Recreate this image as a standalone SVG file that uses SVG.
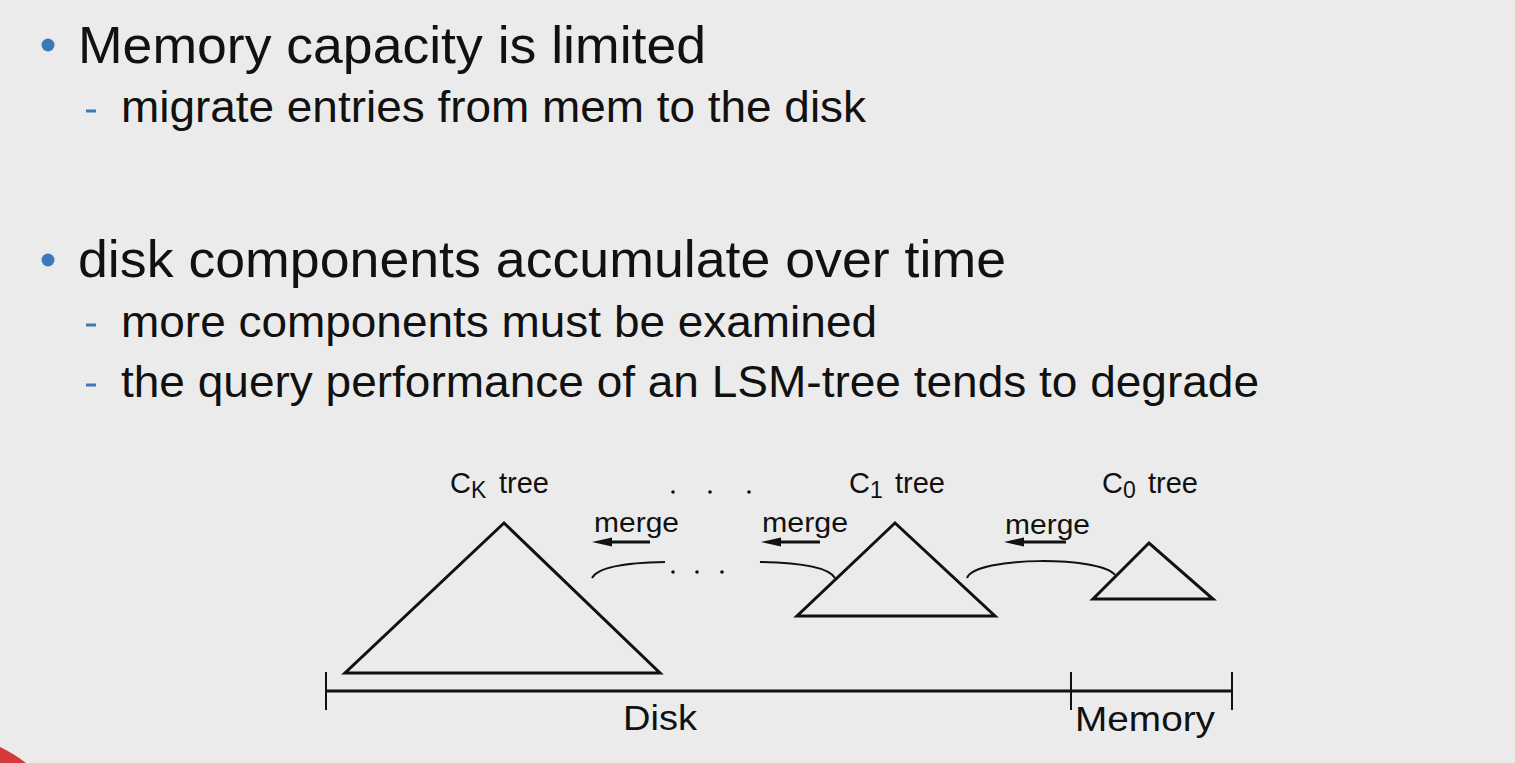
<svg xmlns="http://www.w3.org/2000/svg" width="1515" height="763" viewBox="0 0 1515 763">
<defs>
<style>
.t{font-family:"Liberation Sans",Arial,sans-serif;fill:#111}
.h{font-size:52px}
.s{font-size:45px}
.d{font-size:27px}
.tri{fill:none;stroke:#111;stroke-width:3;stroke-linejoin:miter}
.ax{stroke:#111;stroke-width:3;fill:none}
.tk{stroke:#111;stroke-width:2;fill:none}
.cur{stroke:#111;stroke-width:2;fill:none}
.arr{stroke:#111;stroke-width:3;fill:none}
.ah{fill:#111}
.dash{stroke:#3b78b8;stroke-width:3}
</style>
</defs>
<rect width="1515" height="763" fill="#ebebeb"/>
<path d="M0,747 Q13,753 26,763 L0,763 Z" fill="#d6393a"/>

<g id="bullets">
<circle cx="48" cy="45" r="6.5" fill="#3b78b8"/>
<text class="t h" x="78" y="63" textLength="628" lengthAdjust="spacingAndGlyphs">Memory capacity is limited</text>
<line class="dash" x1="86" y1="111" x2="96" y2="111"/>
<text class="t s" x="121" y="122" textLength="745" lengthAdjust="spacingAndGlyphs">migrate entries from mem to the disk</text>
<circle cx="48" cy="260" r="6.5" fill="#3b78b8"/>
<text class="t h" x="78" y="277" textLength="928" lengthAdjust="spacingAndGlyphs">disk components accumulate over time</text>
<line class="dash" x1="86" y1="325" x2="96" y2="325"/>
<text class="t s" x="121" y="337" textLength="756" lengthAdjust="spacingAndGlyphs">more components must be examined</text>
<line class="dash" x1="86" y1="385" x2="96" y2="385"/>
<text class="t s" x="121" y="397" textLength="1138" lengthAdjust="spacingAndGlyphs">the query performance of an LSM-tree tends to degrade</text>
</g>

<g id="ck-tree">
<polygon class="tri" points="504,523 345,673 660,673"/>
<text class="t" x="450" y="493" font-size="29">C<tspan font-size="23" dy="5">K</tspan></text>
<text class="t" x="499" y="493" font-size="29">tree</text>
</g>
<g id="c1-tree">
<polygon class="tri" points="895,523 797,616 995,616"/>
<text class="t" x="849" y="493" font-size="29">C<tspan font-size="23" dy="5">1</tspan></text>
<text class="t" x="895" y="493" font-size="29">tree</text>
</g>
<g id="c0-tree">
<polygon class="tri" points="1149,543 1093,599 1213,599"/>
<text class="t" x="1102" y="493" font-size="29">C<tspan font-size="23" dy="5">0</tspan></text>
<text class="t" x="1148" y="493" font-size="29">tree</text>
</g>

<g id="dots-top" fill="#111">
<circle cx="673" cy="492" r="1.8"/>
<circle cx="710" cy="492" r="1.8"/>
<circle cx="749" cy="492" r="1.8"/>
</g>

<g id="axis">
<line class="ax" x1="326" y1="691" x2="1232" y2="691"/>
<line class="tk" x1="326" y1="672" x2="326" y2="710"/>
<line class="tk" x1="1071" y1="672" x2="1071" y2="710"/>
<line class="tk" x1="1232" y1="672" x2="1232" y2="710"/>
<text class="t" x="623" y="730" font-size="35" textLength="74" lengthAdjust="spacingAndGlyphs">Disk</text>
<text class="t" x="1075" y="731" font-size="35" textLength="140" lengthAdjust="spacingAndGlyphs">Memory</text>
</g>

<g id="connectors">
<text class="t d" x="594" y="532" textLength="85" lengthAdjust="spacingAndGlyphs">merge</text>
<line class="arr" x1="606" y1="542" x2="650" y2="542"/>
<polygon class="ah" points="592,542 612,537.5 612,546.5"/>
<path class="cur" d="M592,578 Q600,563 665,562"/>
<g fill="#111">
<circle cx="673" cy="572" r="1.8"/>
<circle cx="697" cy="572" r="1.8"/>
<circle cx="722" cy="572" r="1.8"/>
</g>
<text class="t d" x="762" y="532" textLength="86" lengthAdjust="spacingAndGlyphs">merge</text>
<line class="arr" x1="775" y1="542" x2="820" y2="542"/>
<polygon class="ah" points="761,542 781,537.5 781,546.5"/>
<path class="cur" d="M760,562 Q826,563 835,578"/>
<text class="t d" x="1005" y="534" textLength="85" lengthAdjust="spacingAndGlyphs">merge</text>
<line class="arr" x1="1018" y1="542" x2="1066" y2="542"/>
<polygon class="ah" points="1004,542 1024,537.5 1024,546.5"/>
<path class="cur" d="M967,578 C976,556 1100,556 1115,575"/>
</g>
</svg>
